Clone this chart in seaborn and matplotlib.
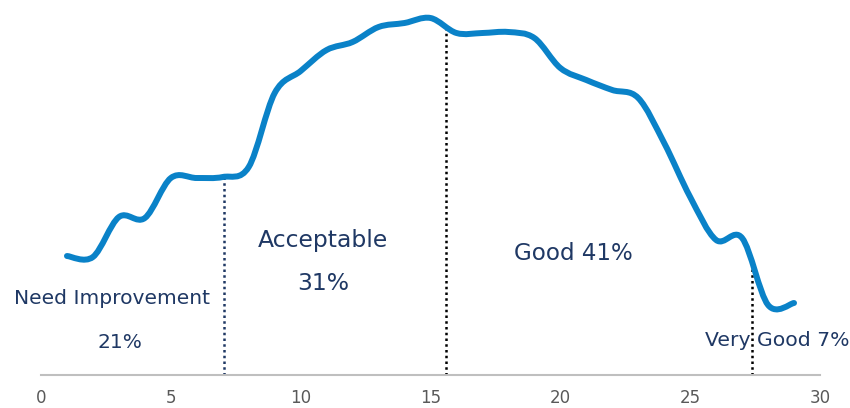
import numpy as np
import pandas as pd
import matplotlib
matplotlib.use("Agg")
import matplotlib.pyplot as plt
from matplotlib.path import Path
from matplotlib.patches import PathPatch
import seaborn as sns

# Score distribution (share of respondents per score)
scores = [1, 2, 3, 4, 5, 6, 7, 8, 9, 10, 11, 12, 13, 14, 15,
          16, 17, 18, 19, 20, 21, 22, 23, 24, 25, 26, 27, 28, 29]
share = [11.9, 11.8, 15.8, 15.7, 19.7, 19.7, 19.8, 20.8, 28.2, 30.4,
         32.5, 33.3, 34.8, 35.2, 35.7, 34.2, 34.2, 34.3, 33.7, 30.7,
         29.5, 28.5, 27.7, 23.2, 17.8, 13.5, 13.7, 7.0, 7.2]

# Band boundaries and the curve height at each boundary
cut_x = [7.05, 15.6, 27.38]
cut_top = [19.9, 34.7, 11.2]
cut_colors = ["#1f3864", "#000000", "#000000"]

# Band labels: text, x, y, size
band_text = ["Need Improvement", "21%", "Acceptable", "31%", "Good 41%", "Very Good 7%"]
band_x = [2.73, 3.04, 10.86, 10.86, 20.5, 28.34]
band_y = [7.6, 3.2, 13.5, 9.2, 12.1, 3.5]
band_size = [14.6, 14.5, 16.9, 16.9, 16.6, 14.7]

df = pd.DataFrame({"score": scores, "share": share})

sns.set_theme(style="white")
plt.rcParams["font.family"] = ["DejaVu Sans"]

fig = plt.figure(figsize=(8.5, 4.08), dpi=100)
ax = fig.add_axes([41 / 850, 33 / 408, 779 / 850, 370 / 408])

sns.lineplot(data=df, x="score", y="share", ax=ax, color="#0a82c8", linewidth=4.3)

# Replace the polyline with a smooth Bezier curve through the same points
line = ax.lines[0]
pts = np.asarray(line.get_xydata())
line.set_visible(False)
n = len(pts)
verts = [tuple(pts[0])]
codes = [Path.MOVETO]
for i in range(n - 1):
    p0 = pts[i - 1] if i > 0 else pts[i]
    p1 = pts[i]
    p2 = pts[i + 1]
    p3 = pts[i + 2] if i + 2 < n else pts[i + 1]
    c1 = p1 + (p2 - p0) / 6.0
    c2 = p2 - (p3 - p1) / 6.0
    verts += [tuple(c1), tuple(c2), tuple(p2)]
    codes += [Path.CURVE4] * 3
ax.add_patch(PathPatch(Path(verts, codes), fill=False, edgecolor="#0a82c8",
                       linewidth=4.3, capstyle="round", joinstyle="round", zorder=3))

for xv, top, col in zip(cut_x, cut_top, cut_colors):
    ax.plot([xv, xv], [0, top], linestyle=(0, (1, 1.3)), color=col, linewidth=1.8, zorder=2)

for t, xv, yv, fs in zip(band_text, band_x, band_y, band_size):
    ax.text(xv, yv, t, ha="center", va="center", color="#1f3864", fontsize=fs,
            zorder=4, clip_on=False)

ax.set_xlim(0, 30)
ax.set_ylim(0, 37)
ax.set_xticks([0, 5, 10, 15, 20, 25, 30])
ax.set_yticks([])
ax.set_xlabel("")
ax.set_ylabel("")
ax.tick_params(axis="x", length=0, labelsize=12, labelcolor="#595959", pad=10)
sns.despine(ax=ax, left=True, top=True, right=True)
ax.spines["bottom"].set_color("#bfbfbf")
ax.spines["bottom"].set_linewidth(1.5)
ax.set_facecolor("white")
fig.patch.set_facecolor("white")

fig.savefig("out.png", dpi=100)
